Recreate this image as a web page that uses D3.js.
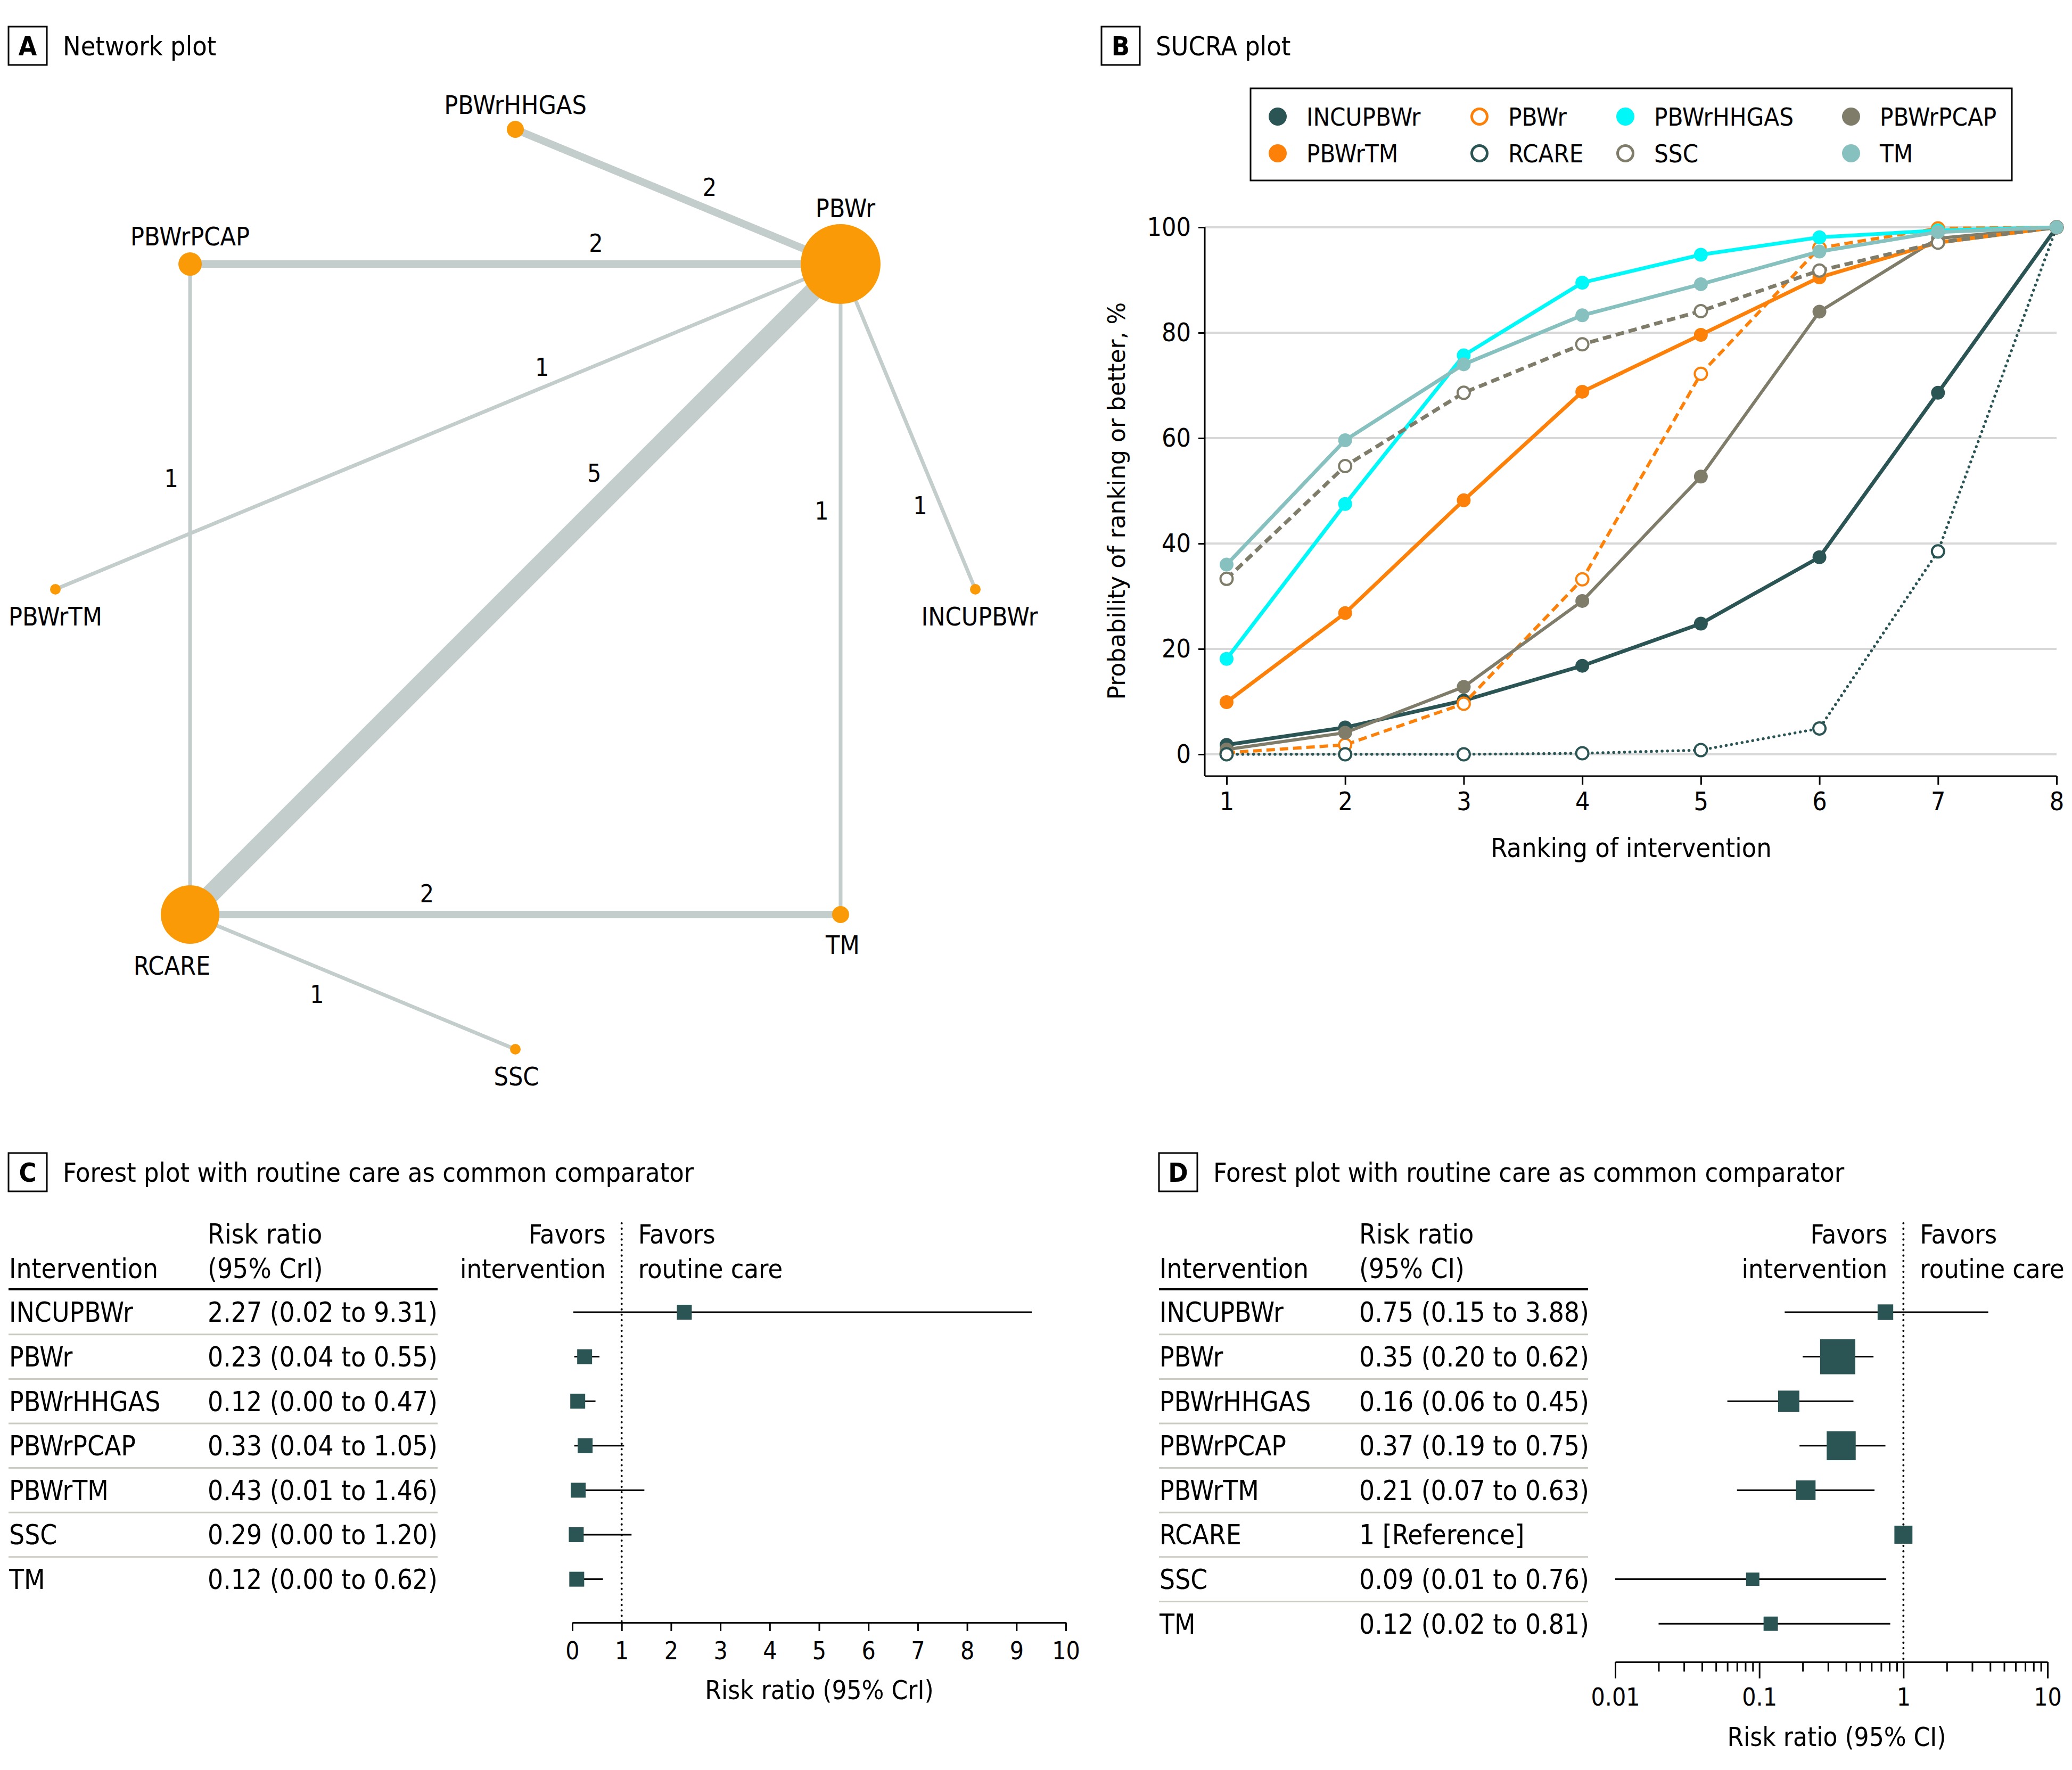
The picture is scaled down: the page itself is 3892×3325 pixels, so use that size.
<!DOCTYPE html>
<html>
<head>
<meta charset="utf-8">
<script src="https://cdn.jsdelivr.net/npm/d3@7"></script>
<style>
  body { margin: 0; background: #fff; }
  svg { display: block; }
</style>
</head>
<body>
<div id="chart"></div>
<script>
/* global d3 */

// ---- Data ----

// Network plot: nodes in clockwise order starting at the top
const netNodes = ["PBWrHHGAS", "PBWr", "INCUPBWr", "TM", "SSC", "RCARE", "PBWrTM", "PBWrPCAP"];
const netNodeWeight = [256, 5625, 100, 256, 100, 3025, 100, 484];
// [from, to, number of studies]
const netEdges = [
    ["PBWr", "PBWrHHGAS", 2],
    ["PBWr", "PBWrPCAP", 2],
    ["PBWr", "PBWrTM", 1],
    ["PBWr", "RCARE", 5],
    ["PBWr", "TM", 1],
    ["PBWr", "INCUPBWr", 1],
    ["PBWrPCAP", "RCARE", 1],
    ["TM", "RCARE", 2],
    ["RCARE", "SSC", 1]
];

// SUCRA plot: cumulative probability (%) of ranking at each position or better
const ranks = [1, 2, 3, 4, 5, 6, 7, 8];
const sucraINCUPBWr = [1.8, 5.1, 10.2, 16.8, 24.8, 37.4, 68.6, 100];
const sucraPBWr = [0.3, 1.8, 9.6, 33.2, 72.2, 96.1, 99.8, 100];
const sucraPBWrHHGAS = [18.1, 47.5, 75.7, 89.5, 94.8, 98.1, 99.4, 100];
const sucraPBWrPCAP = [0.9, 4.1, 12.8, 29.1, 52.7, 84.0, 97.9, 100];
const sucraPBWrTM = [9.9, 26.8, 48.2, 68.8, 79.6, 90.5, 97.1, 100];
const sucraRCARE = [0, 0, 0, 0.2, 0.8, 4.9, 38.5, 100];
const sucraSSC = [33.3, 54.7, 68.6, 77.8, 84.1, 91.8, 97.1, 100];
const sucraTM = [36.0, 59.6, 74.0, 83.3, 89.2, 95.4, 99.1, 100];
const sucraTicks = [0, 20, 40, 60, 80, 100];

// Forest plot C (Bayesian, credible intervals)
const cNames = ["INCUPBWr", "PBWr", "PBWrHHGAS", "PBWrPCAP", "PBWrTM", "SSC", "TM"];
const cEst = [2.27, 0.23, 0.12, 0.33, 0.43, 0.29, 0.12];
const cLow = [0.02, 0.04, 0.00, 0.04, 0.01, 0.00, 0.00];
const cHigh = [9.31, 0.55, 0.47, 1.05, 1.46, 1.20, 0.62];
const cMarker = [2.27, 0.25, 0.11, 0.26, 0.12, 0.08, 0.09]; // where the squares sit
const cTicks = [0, 1, 2, 3, 4, 5, 6, 7, 8, 9, 10];

// Forest plot D (confidence intervals, log scale)
const dNames = ["INCUPBWr", "PBWr", "PBWrHHGAS", "PBWrPCAP", "PBWrTM", "RCARE", "SSC", "TM"];
const dEst = [0.75, 0.35, 0.16, 0.37, 0.21, 1, 0.09, 0.12];
const dLow = [0.15, 0.20, 0.06, 0.19, 0.07, null, 0.01, 0.02];
const dHigh = [3.88, 0.62, 0.45, 0.75, 0.63, null, 0.76, 0.81];
const dWeight = [8.7, 44, 16, 30, 13.7, 11.6, 6.3, 7.3];
const dTicks = [0.01, 0.1, 1, 10];

// ---- Styles ----
const FONT = "'DejaVu Sans Condensed', 'Liberation Sans Narrow', 'Arial Narrow', sans-serif";
const WIDE_FONT = "'DejaVu Sans', Verdana, sans-serif";
const TEAL = "#2b5454";
const ORANGE = "#fd8008";
const CYAN = "#00f8f8";
const TAUPE = "#7f7d6a";
const LTEAL = "#86c1c0";
const NODE = "#fb9a07";
const EDGE = "#c3cdcb";
const SEP = "#cbcbc2";
const TABLE_FS = 51;

const sucraSeries = [
    { name: "INCUPBWr", values: sucraINCUPBWr, color: TEAL, open: false, dash: null, width: 7 },
    { name: "PBWr", values: sucraPBWr, color: ORANGE, open: true, dash: "16,9", width: 6 },
    { name: "PBWrHHGAS", values: sucraPBWrHHGAS, color: CYAN, open: false, dash: null, width: 7 },
    { name: "PBWrPCAP", values: sucraPBWrPCAP, color: TAUPE, open: false, dash: null, width: 6 },
    { name: "PBWrTM", values: sucraPBWrTM, color: ORANGE, open: false, dash: null, width: 7 },
    { name: "RCARE", values: sucraRCARE, color: TEAL, open: true, dash: "0.1,10", width: 5.5 },
    { name: "SSC", values: sucraSSC, color: TAUPE, open: true, dash: "16,9", width: 7 },
    { name: "TM", values: sucraTM, color: LTEAL, open: false, dash: null, width: 7 }
];

const width = 3892;
const height = 3325;

const svg = d3.select("#chart")
    .append("svg")
    .attr("width", width)
    .attr("height", height)
    .style("font-family", FONT);

// Panel heading with boxed letter
function panelTitle(x, y, letter, title) {
    svg.append("rect")
        .attr("x", x).attr("y", y)
        .attr("width", 72).attr("height", 72)
        .attr("fill", "none")
        .attr("stroke", "#000")
        .attr("stroke-width", 3);
    svg.append("text")
        .attr("x", x + 36).attr("y", y + 54)
        .attr("text-anchor", "middle")
        .attr("font-size", 50)
        .attr("font-weight", "bold")
        .text(letter);
    svg.append("text")
        .attr("x", x + 102).attr("y", y + 54)
        .attr("font-size", 50)
        .text(title);
}

panelTitle(16, 50, "A", "Network plot");
panelTitle(2069, 50, "B", "SUCRA plot");
panelTitle(16, 2166, "C", "Forest plot with routine care as common comparator");
panelTitle(2177, 2166, "D", "Forest plot with routine care as common comparator");

// ---- A: Network plot ----
(function drawNetwork() {
    const cx = 968, cy = 1107, R = 864;
    const angle = d3.scaleLinear().domain([0, netNodes.length]).range([-Math.PI / 2, 1.5 * Math.PI]);
    const rScale = d3.scaleSqrt().domain([0, d3.max(netNodeWeight)]).range([0, 75]);
    const wScale = d3.scaleLinear().domain([0, 5]).range([0, 35]);
    // placement of the edge counts: fraction along the edge, extra side offset
    const labelT = [0.427, 0.376, 0.371, 0.35, 0.38, 0.72, 0.33, 0.636, 0.42];
    const labelOff = [0, 0, 0, 0, 0, 0, 0, 0, 12];
    // small horizontal nudges of node names
    const nameDx = [0, 9, 8, 4, 2, -34, 0, 0];

    const pos = {};
    netNodes.forEach((n, i) => {
        const a = angle(i);
        pos[n] = { x: cx + R * Math.cos(a), y: cy + R * Math.sin(a), a: a, r: rScale(netNodeWeight[i]), dx: nameDx[i] };
    });

    const g = svg.append("g");

    g.selectAll("line.edge")
        .data(netEdges)
        .join("line")
        .attr("class", "edge")
        .attr("x1", d => pos[d[0]].x).attr("y1", d => pos[d[0]].y)
        .attr("x2", d => pos[d[1]].x).attr("y2", d => pos[d[1]].y)
        .attr("stroke", EDGE)
        .attr("stroke-width", d => wScale(d[2]));

    g.selectAll("text.edge-label")
        .data(netEdges)
        .join("text")
        .attr("class", "edge-label")
        .attr("font-size", 46)
        .attr("text-anchor", "middle")
        .attr("dominant-baseline", "central")
        .attr("transform", (d, i) => {
            const s = pos[d[0]], t = pos[d[1]];
            const dx = t.x - s.x, dy = t.y - s.y;
            const len = Math.hypot(dx, dy);
            const off = wScale(d[2]) / 2 + 32 + labelOff[i];
            const x = s.x + dx * labelT[i] - dy / len * off;
            const y = s.y + dy * labelT[i] + dx / len * off;
            return `translate(${x},${y})`;
        })
        .text(d => d[2]);

    g.selectAll("circle.node")
        .data(netNodes)
        .join("circle")
        .attr("class", "node")
        .attr("cx", d => pos[d].x)
        .attr("cy", d => pos[d].y)
        .attr("r", d => pos[d].r)
        .attr("fill", NODE);

    g.selectAll("text.node-label")
        .data(netNodes)
        .join("text")
        .attr("class", "node-label")
        .attr("font-size", 48)
        .attr("text-anchor", "middle")
        .attr("x", d => pos[d].x + pos[d].dx)
        .attr("y", d => {
            const p = pos[d];
            return Math.sin(p.a) < -0.1 ? p.y - p.r - 13 : p.y + p.r + 58;
        })
        .text(d => d);
})();

// ---- B: SUCRA plot ----
(function drawSucra() {
    const x = d3.scaleLinear().domain([1, 8]).range([2304, 3863]);
    const y = d3.scaleLinear().domain([0, 100]).range([1417, 427]);
    const axisY = 1458, axisX = 2263;

    const g = svg.append("g");

    // gridlines
    g.selectAll("line.grid")
        .data(sucraTicks)
        .join("line")
        .attr("x1", axisX).attr("x2", 3863)
        .attr("y1", d => y(d)).attr("y2", d => y(d))
        .attr("stroke", "#d8d8d8")
        .attr("stroke-width", 4);

    const yAxis = g.append("g")
        .attr("transform", `translate(${axisX},0)`)
        .call(d3.axisLeft(y).tickValues(sucraTicks).tickSize(12).tickPadding(14));
    yAxis.select(".domain").attr("d", `M0,${y(100)}V${axisY}`).attr("stroke-width", 3);
    yAxis.selectAll(".tick line").attr("stroke-width", 3);
    yAxis.selectAll(".tick text").attr("font-size", 48).attr("font-family", FONT);

    const xAxis = g.append("g")
        .attr("transform", `translate(0,${axisY})`)
        .call(d3.axisBottom(x).tickValues(ranks).tickFormat(d3.format("d")).tickSize(16).tickPadding(14));
    xAxis.select(".domain").attr("d", `M${axisX},0H${x(8)}`).attr("stroke-width", 3);
    xAxis.selectAll(".tick line").attr("stroke-width", 3);
    xAxis.selectAll(".tick text").attr("font-size", 48).attr("font-family", FONT);

    g.append("text")
        .attr("x", 3064).attr("y", 1610)
        .attr("text-anchor", "middle")
        .attr("font-size", 50)
        .text("Ranking of intervention");

    g.append("text")
        .attr("transform", "translate(2113,941) rotate(-90)")
        .attr("text-anchor", "middle")
        .attr("font-family", WIDE_FONT)
        .attr("font-size", 44)
        .text("Probability of ranking or better, %");

    const line = d3.line()
        .x((d, i) => x(ranks[i]))
        .y(d => y(d));

    sucraSeries.forEach(s => {
        const sg = g.append("g");
        sg.append("path")
            .datum(s.values)
            .attr("fill", "none")
            .attr("stroke", s.color)
            .attr("stroke-width", s.width)
            .attr("stroke-dasharray", s.dash)
            .attr("stroke-linecap", s.dash === "0.1,10" ? "round" : "butt")
            .attr("d", line);
        sg.selectAll("circle")
            .data(s.values)
            .join("circle")
            .attr("cx", (d, i) => x(ranks[i]))
            .attr("cy", d => y(d))
            .attr("r", s.open ? 11.5 : 13)
            .attr("fill", s.open ? "#fff" : s.color)
            .attr("stroke", s.open ? s.color : "none")
            .attr("stroke-width", 4);
    });

    // legend
    const lg = g.append("g");
    lg.append("rect")
        .attr("x", 2349).attr("y", 166)
        .attr("width", 1430).attr("height", 173)
        .attr("fill", "#fff")
        .attr("stroke", "#000")
        .attr("stroke-width", 3);
    const colX = [2400, 2779, 3053, 3477];
    const rowY = [219, 288];
    const items = lg.selectAll("g.item")
        .data(sucraSeries)
        .join("g")
        .attr("class", "item")
        .attr("transform", (d, i) => `translate(${colX[i % 4]},${rowY[Math.floor(i / 4)]})`);
    items.append("circle")
        .attr("r", d => d.open ? 14.5 : 17)
        .attr("fill", d => d.open ? "#fff" : d.color)
        .attr("stroke", d => d.open ? d.color : "none")
        .attr("stroke-width", 5);
    items.append("text")
        .attr("x", 54)
        .attr("dy", "0.36em")
        .attr("font-size", 47)
        .text(d => d.name);
})();

// ---- Forest plot helpers ----
const rowY = d3.scaleLinear().domain([0, 1]).range([2465, 2548.6]);

function forestTable(x0, x1, colX, names, labels, ciLabel) {
    const g = svg.append("g").attr("font-size", TABLE_FS);
    g.append("text").attr("x", x0 + 1).attr("y", 2401).text("Intervention");
    g.append("text").attr("x", colX).attr("y", 2336).text("Risk ratio");
    g.append("text").attr("x", colX).attr("y", 2401).text(ciLabel);
    g.append("line")
        .attr("x1", x0).attr("x2", x1)
        .attr("y1", 2422).attr("y2", 2422)
        .attr("stroke", "#000").attr("stroke-width", 4);
    g.selectAll("line.sep")
        .data(names.slice(1))
        .join("line")
        .attr("class", "sep")
        .attr("x1", x0).attr("x2", x1)
        .attr("y1", (d, i) => rowY(i + 0.5)).attr("y2", (d, i) => rowY(i + 0.5))
        .attr("stroke", SEP).attr("stroke-width", 3);
    g.selectAll("text.name")
        .data(names)
        .join("text")
        .attr("class", "name")
        .attr("x", x0 + 1)
        .attr("y", (d, i) => rowY(i))
        .attr("dy", "0.36em")
        .text(d => d);
    g.selectAll("text.val")
        .data(labels)
        .join("text")
        .attr("class", "val")
        .attr("x", colX)
        .attr("y", (d, i) => rowY(i))
        .attr("dy", "0.36em")
        .text(d => d);
}

function favorsHeader(xRef) {
    const g = svg.append("g").attr("font-size", 50);
    g.append("text").attr("x", xRef - 30).attr("y", 2336).attr("text-anchor", "end").text("Favors");
    g.append("text").attr("x", xRef - 30).attr("y", 2401).attr("text-anchor", "end").text("intervention");
    g.append("text").attr("x", xRef + 31).attr("y", 2336).text("Favors");
    g.append("text").attr("x", xRef + 31).attr("y", 2401).text("routine care");
}

const fmt = d3.format(".2f");

// ---- C: forest plot, linear scale ----
(function drawForestC() {
    const cLabels = cNames.map((d, i) => `${fmt(cEst[i])} (${fmt(cLow[i])} to ${fmt(cHigh[i])})`);
    forestTable(16, 822, 390, cNames, cLabels, "(95% CrI)");

    const x = d3.scaleLinear().domain([0, 10]).range([1075, 2002]);
    const axisY = 3048;
    favorsHeader(x(1));

    const g = svg.append("g");
    g.append("line")
        .attr("x1", x(1)).attr("x2", x(1))
        .attr("y1", 2298).attr("y2", axisY)
        .attr("stroke", "#000").attr("stroke-width", 4)
        .attr("stroke-linecap", "round")
        .attr("stroke-dasharray", "0.1,10");

    g.selectAll("line.ci")
        .data(cNames)
        .join("line")
        .attr("class", "ci")
        .attr("x1", (d, i) => x(cLow[i])).attr("x2", (d, i) => x(cHigh[i]))
        .attr("y1", (d, i) => rowY(i)).attr("y2", (d, i) => rowY(i))
        .attr("stroke", "#000").attr("stroke-width", 3);

    g.selectAll("rect.est")
        .data(cNames)
        .join("rect")
        .attr("class", "est")
        .attr("x", (d, i) => x(cMarker[i]) - 14)
        .attr("y", (d, i) => rowY(i) - 14)
        .attr("width", 28).attr("height", 28)
        .attr("fill", TEAL);

    const ax = g.append("g")
        .attr("transform", `translate(0,${axisY})`)
        .call(d3.axisBottom(x).tickValues(cTicks).tickFormat(d3.format("d")).tickSize(16).tickSizeOuter(0).tickPadding(20));
    ax.select(".domain").attr("stroke-width", 3);
    ax.selectAll(".tick line").attr("stroke-width", 3);
    ax.selectAll(".tick text").attr("font-size", 46).attr("font-family", FONT);

    g.append("text")
        .attr("x", 1539).attr("y", 3192)
        .attr("text-anchor", "middle")
        .attr("font-size", 49)
        .text("Risk ratio (95% CrI)");
})();

// ---- D: forest plot, log scale ----
(function drawForestD() {
    const dLabels = dNames.map((d, i) => dLow[i] === null ? "1 [Reference]" : `${fmt(dEst[i])} (${fmt(dLow[i])} to ${fmt(dHigh[i])})`);
    forestTable(2177, 2983, 2553, dNames, dLabels, "(95% CI)");

    const x = d3.scaleLog().domain([0.01, 10]).range([3034, 3846]);
    const axisY = 3122;
    favorsHeader(x(1));
    const size = d3.scaleSqrt().domain([0, d3.max(dWeight)]).range([0, 66]);

    const g = svg.append("g");
    g.append("line")
        .attr("x1", x(1)).attr("x2", x(1))
        .attr("y1", 2298).attr("y2", axisY)
        .attr("stroke", "#000").attr("stroke-width", 4)
        .attr("stroke-linecap", "round")
        .attr("stroke-dasharray", "0.1,10");

    const withCi = dNames.map((d, i) => i).filter(i => dLow[i] !== null);
    g.selectAll("line.ci")
        .data(withCi)
        .join("line")
        .attr("class", "ci")
        .attr("x1", i => x(dLow[i])).attr("x2", i => x(dHigh[i]))
        .attr("y1", i => rowY(i)).attr("y2", i => rowY(i))
        .attr("stroke", "#000").attr("stroke-width", 3);

    g.selectAll("rect.est")
        .data(dNames)
        .join("rect")
        .attr("class", "est")
        .attr("x", (d, i) => x(dEst[i]) - size(dWeight[i]) / 2)
        .attr("y", (d, i) => rowY(i) - size(dWeight[i]) / 2)
        .attr("width", (d, i) => size(dWeight[i]))
        .attr("height", (d, i) => size(dWeight[i]))
        .attr("fill", TEAL);

    // minor ticks
    const minor = x.ticks().filter(t => !dTicks.includes(t));
    const ax = g.append("g").attr("transform", `translate(0,${axisY})`);
    ax.call(d3.axisBottom(x).tickValues(minor).tickFormat("").tickSize(18).tickSizeOuter(0));
    ax.selectAll(".tick line").attr("stroke-width", 3);
    ax.select(".domain").attr("stroke-width", 3);
    const axMaj = g.append("g")
        .attr("transform", `translate(0,${axisY})`)
        .call(d3.axisBottom(x).tickValues(dTicks).tickFormat(d => String(d)).tickSize(31).tickSizeOuter(0).tickPadding(18));
    axMaj.select(".domain").remove();
    axMaj.selectAll(".tick line").attr("stroke-width", 3);
    axMaj.selectAll(".tick text").attr("font-size", 46).attr("font-family", FONT);

    g.append("text")
        .attr("x", 3450).attr("y", 3280)
        .attr("text-anchor", "middle")
        .attr("font-size", 49)
        .text("Risk ratio (95% CI)");
})();
</script>
</body>
</html>
